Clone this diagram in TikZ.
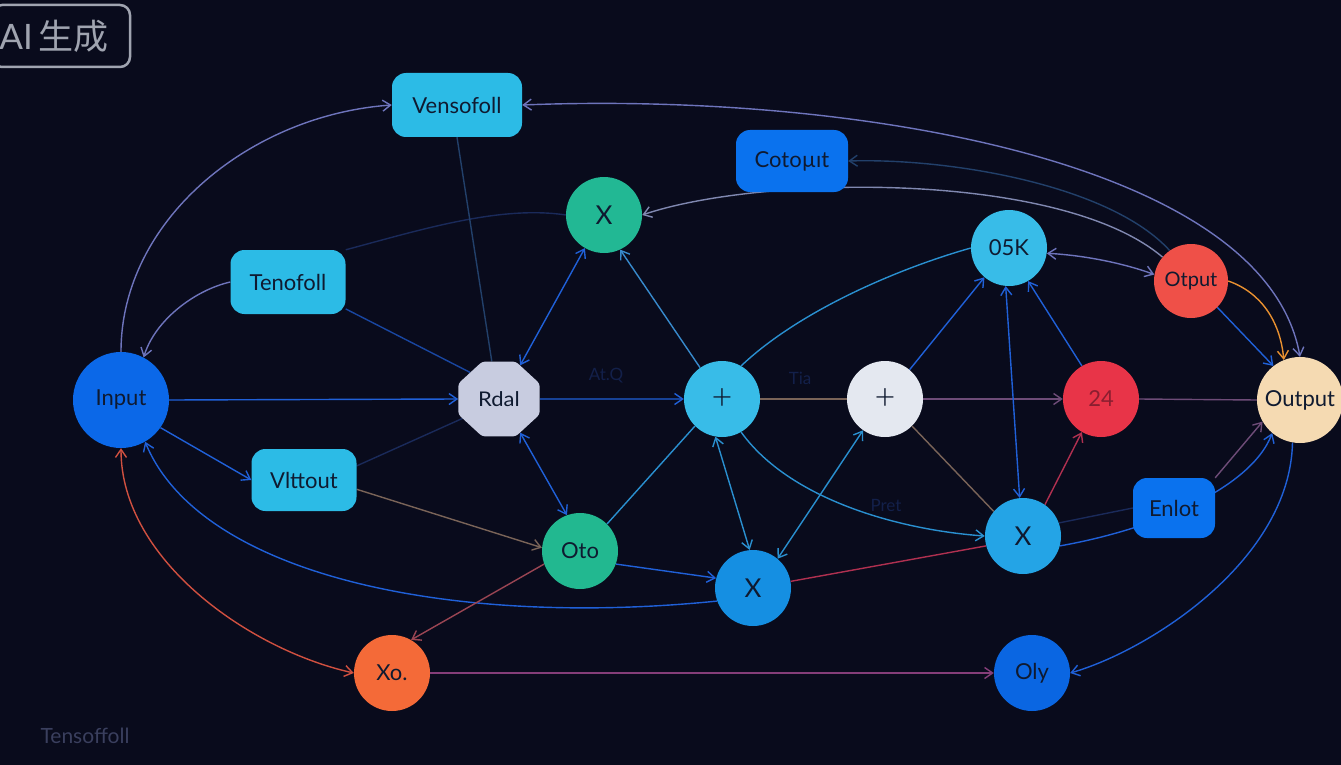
\documentclass[tikz,border=0pt]{standalone}
\usepackage{fontspec}
\setmainfont{Lato}
\newfontfamily\cjk{Noto Sans CJK SC}
\newfontfamily\plusfont{Lato Light}
\usetikzlibrary{arrows.meta,shapes.geometric}
\pgfdeclarelayer{back}
\pgfdeclarelayer{bg}
\pgfsetlayers{back,bg,main}
\definecolor{bgc}{HTML}{090B1C}
\definecolor{txt}{HTML}{0F1A30}
\definecolor{cyanbox}{HTML}{2CBBE6}
\definecolor{bluebox}{HTML}{0A72EE}
\definecolor{greenc}{HTML}{22B894}
\definecolor{inputc}{HTML}{0B68E8}
\definecolor{rdalc}{HTML}{C8CCE0}
\definecolor{cyanc}{HTML}{38BCE8}
\definecolor{whitec}{HTML}{E4E8F0}
\definecolor{redc}{HTML}{E83448}
\definecolor{redtxt}{HTML}{8A1E30}
\definecolor{creamc}{HTML}{F5DAB2}
\definecolor{redo}{HTML}{EF5048}
\definecolor{greeno}{HTML}{22B890}
\definecolor{bluex}{HTML}{158FE2}
\definecolor{bluex2}{HTML}{24A4E6}
\definecolor{orangec}{HTML}{F46A38}
\definecolor{blueoly}{HTML}{0A66E2}
\definecolor{lav}{HTML}{6E74BC}
\definecolor{lav2}{HTML}{8088B0}
\definecolor{eblue}{HTML}{2060D8}
\definecolor{ecyan}{HTML}{2A90D0}
\definecolor{edark}{HTML}{1C2A58}
\definecolor{edark2}{HTML}{22406A}
\definecolor{ebrown}{HTML}{7A6458}
\definecolor{epurple}{HTML}{6E4C78}
\definecolor{ered}{HTML}{B03050}
\definecolor{eorange}{HTML}{E89030}
\definecolor{ered2}{HTML}{D05040}
\definecolor{faint}{HTML}{1A2A5A}
\definecolor{flbl}{HTML}{13204A}
\definecolor{wm}{HTML}{3A3F5E}
\definecolor{aigray}{HTML}{A0A4B0}
\begin{document}
\begin{tikzpicture}[x=1pt,y=-1pt,
  every node/.style={font=\fontsize{22}{24}\selectfont, text=txt},
  circ/.style={circle, minimum size=76pt, inner sep=0pt},
  rbox/.style={rounded corners=14pt, minimum height=62pt, inner sep=0pt},
  sym/.style={font=\fontsize{26}{28}\selectfont},
  plus/.style={font=\plusfont\fontsize{36}{38}\selectfont},
  edge/.style={line width=1.4pt},
  tip/.style={-{Straight Barb[length=8pt,width=11pt]}},
  btip/.style={{Straight Barb[length=8pt,width=11pt]}-{Straight Barb[length=8pt,width=11pt]}},
  lbl/.style={font=\fontsize{17}{19}\selectfont, text=flbl}
]
\begin{pgfonlayer}{back}
\fill[bgc] (0,0) rectangle (1341,765);
\end{pgfonlayer}
\useasboundingbox (0,0) rectangle (1341,765);

% title box
\node[draw=aigray, line width=2.5pt, rounded corners=10pt, minimum width=138pt, minimum height=62pt, inner sep=0pt, text=aigray, font=\fontsize{35}{37}\selectfont] (ai) at (61,36) {\hspace*{-14pt}AI\,\cjk 生成};

% nodes
\node[rbox, fill=cyanbox, minimum width=130pt, minimum height=64pt] (vens) at (457,105) {Vensofoll};
\node[rbox, fill=bluebox, minimum width=112pt] (coto) at (792,161) {Cotoµıt};
\node[circ, fill=greenc, sym] (xg) at (604,215) {X};
\node[rbox, fill=cyanbox, minimum width=115pt, minimum height=64pt] (teno) at (288,282) {Tenofoll};
\node[circ, fill=inputc, minimum size=96pt] (input) at (121,400) {Input};
\node[regular polygon, regular polygon sides=8, minimum size=88pt, fill=rdalc, inner sep=0pt, rounded corners=3pt, yscale=0.92] (rdal) at (499,399) {Rdal};
\node[circ, fill=cyanc, plus] (p1) at (722,399) {+};
\node[circ, fill=whitec, plus] (p2) at (885,399) {+};
\node[circ, fill=redc, text=redtxt] (n24) at (1101,399) {24};
\node[circ, fill=creamc, minimum size=86pt] (out) at (1300,400) {Output};
\node[circ, fill=cyanc] (k05) at (1009,248) {05K};
\node[circ, fill=redo, minimum size=74pt, font=\fontsize{20}{22}\selectfont] (otput) at (1191,281) {Otput};
\node[rbox, fill=cyanbox, minimum width=105pt] (vitt) at (304,480) {Vlttout};
\node[circ, fill=greeno] (oto) at (580,551) {Oto};
\node[circ, fill=bluex, sym] (xb) at (753,588) {X};
\node[circ, fill=bluex2, sym] (xr) at (1023,536) {X};
\node[rbox, fill=bluebox, minimum width=82pt, minimum height=60pt] (enl) at (1174,508) {Enlot};
\node[circ, fill=orangec] (xo) at (392,673) {Xo.};
\node[circ, fill=blueoly] (oly) at (1032,673) {Oly};

% faint labels
\node[lbl] (l1) at (606,376) {At.Q};
\node[lbl] (l2) at (800,378) {Tia};
\node[lbl] (l3) at (886,505) {Pret};
\node[font=\fontsize{21}{23}\selectfont, text=wm] (wmk) at (85,736) {Tensoffoll};

\begin{pgfonlayer}{bg}
% curves
\draw[edge, lav, tip] (input.north) .. controls (121,220) and (250,115) .. (vens.west);
\draw[edge, lav, btip] (vens.east) .. controls (850,92) and (1265,160) .. (out.north);
\draw[edge, edark2, tip] (otput.125) .. controls (1110,185) and (950,158) .. (coto.east);
\draw[edge, lav2, tip] (otput.140) .. controls (1060,170) and (760,175) .. (xg.east);
\draw[edge, lav, tip] (teno.west) .. controls (195,290) and (155,320) .. (input.62);
\draw[edge, faint] (teno.north east) .. controls (420,230) and (500,205) .. (xg.west);
\draw[edge, eblue, tip] (xb.200) .. controls (450,628) and (200,575) .. (input.-60);
\draw[edge, ered2, btip] (input.south) .. controls (121,560) and (250,650) .. (xo.west);
\draw[edge, eblue, tip] (out.-100) .. controls (1290,560) and (1150,650) .. (oly.east);
\draw[edge, ecyan] (p1.60) .. controls (800,310) and (900,268) .. (k05.west);
\draw[edge, ecyan, tip] (p1.-60) .. controls (790,500) and (900,530) .. (xr.west);
\draw[edge, eorange, tip] (otput.east) .. controls (1260,292) and (1280,320) .. (out.112);
\draw[edge, eblue, tip] (otput.-45) -- (out.128);
\draw[edge, eblue, tip] (xr.-15) .. controls (1150,530) and (1250,490) .. (out.-130);
\draw[edge, epurple, tip] (enl.north east) -- (out.-150);
\draw[edge, lav, btip] (k05.-8) .. controls (1080,255) and (1120,262) .. (otput.170);
% straight connectors
\draw[edge, edark2] (vens.south) -- (rdal.100);
\draw[edge, eblue!70!bgc] (teno.-25) -- (rdal.135);
\draw[edge, eblue, tip] (input.east) -- (rdal.west);
\draw[edge, eblue, tip] (input.-35) -- (vitt.west);
\draw[edge, eblue, tip] (rdal.east) -- (p1.west);
\draw[edge, eblue, btip] (rdal.60) -- (xg.-120);
\draw[edge, eblue, btip] (rdal.-60) -- (oto.110);
\draw[edge, ecyan!80!lav, tip] (p1.125) -- (xg.-65);
\draw[edge, ecyan] (p1.-135) -- (oto.45);
\draw[edge, ecyan, btip] (p1.-100) -- (xb.95);
\draw[edge, ebrown] (p1.east) -- (p2.west);
\draw[edge, epurple, tip] (p2.east) -- (n24.west);
\draw[edge, ecyan, btip] (p2.-125) -- (xb.50);
\draw[edge, eblue, tip] (p2.50) -- (k05.-130);
\draw[edge, ebrown] (p2.-45) -- (xr.140);
\draw[edge, eblue, btip] (k05.-95) -- (xr.95);
\draw[edge, eblue, tip] (n24.120) -- (k05.-60);
\draw[edge, ered, tip] (xr.55) -- (n24.-120);
\draw[edge, epurple] (n24.east) -- (out.west);
\draw[edge, ered] (xb.10) -- (xr.-165);
\draw[edge, ebrown, tip] (vitt.-10) -- (oto.175);
\draw[edge, faint] (vitt.15) -- (rdal.-150);
\draw[edge, eblue, tip] (oto.-20) -- (xb.165);
\draw[edge, ered!60!ebrown, tip] (oto.-160) -- (xo.60);
\draw[edge, ered!70!eblue, tip] (xo.east) -- (oly.west);
\draw[edge, faint] (xr.20) -- (enl.west);
\end{pgfonlayer}
\end{tikzpicture}
\end{document}
